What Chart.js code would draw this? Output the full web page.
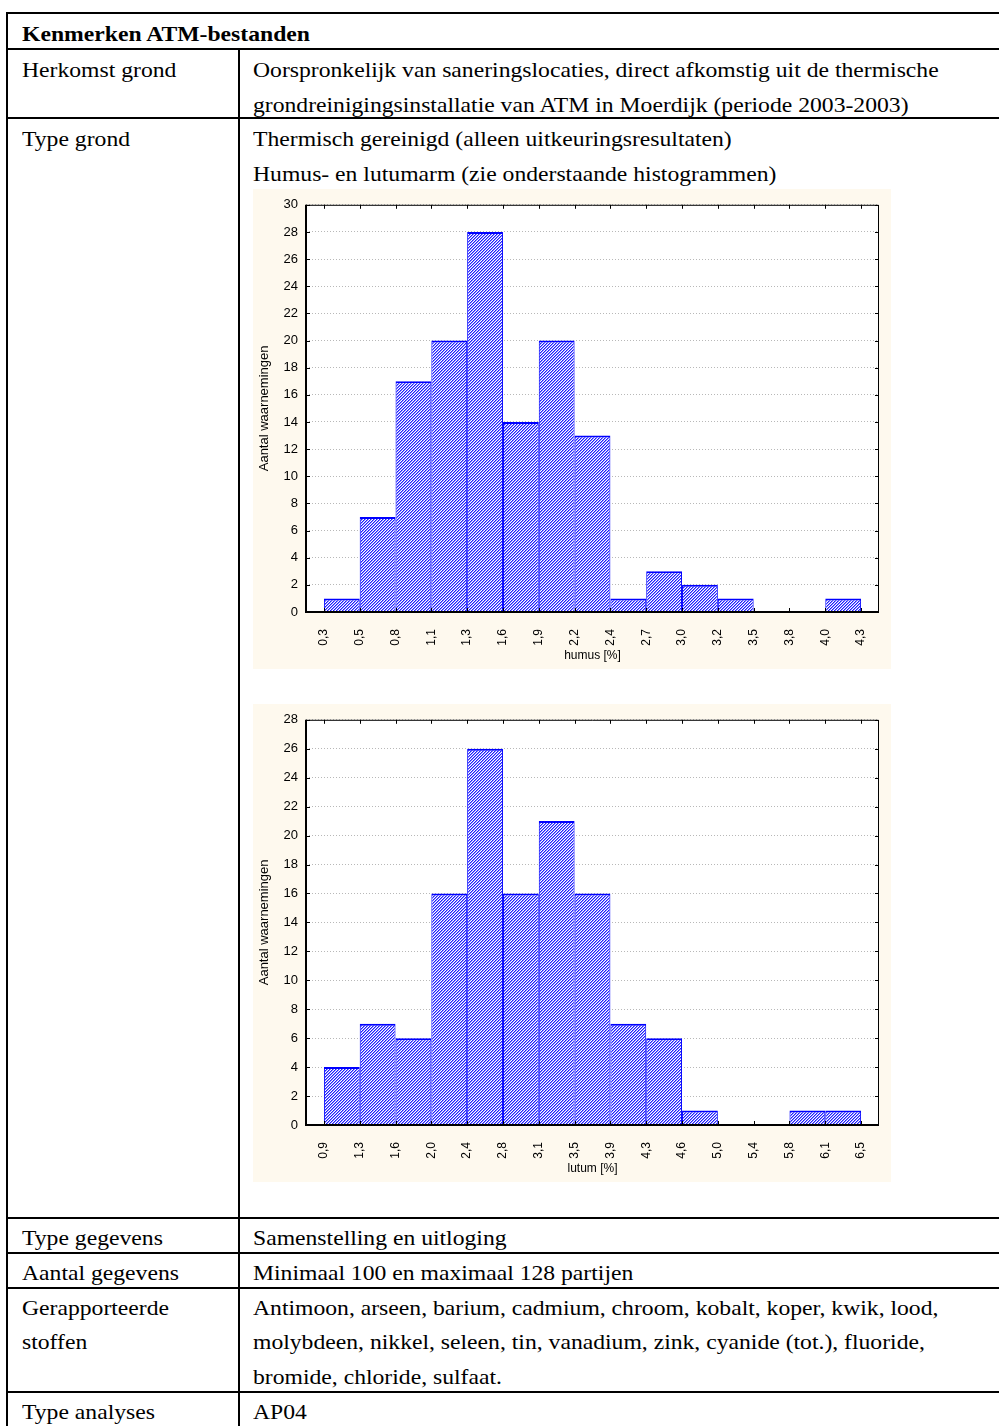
<!DOCTYPE html>
<html lang="nl">
<head>
<meta charset="utf-8">
<title>Kenmerken ATM-bestanden</title>
<script src="https://cdn.jsdelivr.net/npm/chart.js@4.4.1/dist/chart.umd.min.js"></script>
<style>
  html, body { margin: 0; padding: 0; background: #fff; }
  body {
    width: 999px; height: 1426px; position: relative; overflow: hidden;
    font-family: "Liberation Serif", "Times New Roman", serif; color: #000;
  }
  .hl { position: absolute; left: 6px; width: 1000px; height: 2px; background: #000; }
  .vl { position: absolute; width: 2px; background: #000; }
  .t {
    position: absolute; font-size: 21.5px; line-height: 34px; height: 34px;
    white-space: nowrap; transform: scaleX(1.1); transform-origin: 0 50%;
  }
  .l { left: 22px; }
  .r { left: 253px; }
  .b { font-weight: bold; }
  .chartbox { position: absolute; left: 253px; width: 638px; background: #fef9ee; }
  .chartbox canvas { display: block; }
</style>
</head>
<body>
  <!-- table rules -->
  <div class="hl" style="top:12px"></div>
  <div class="hl" style="top:48px"></div>
  <div class="hl" style="top:117px"></div>
  <div class="hl" style="top:1217px"></div>
  <div class="hl" style="top:1252px"></div>
  <div class="hl" style="top:1287px"></div>
  <div class="hl" style="top:1391px"></div>
  <div class="vl" style="left:6px;top:12px;height:1414px"></div>
  <div class="vl" style="left:238px;top:48px;height:1378px"></div>

  <!-- table text -->
  <div class="t l b" style="top:17px">Kenmerken ATM-bestanden</div>

  <div class="t l" style="top:53px">Herkomst grond</div>
  <div class="t r" style="top:53px">Oorspronkelijk van saneringslocaties, direct afkomstig uit de thermische</div>
  <div class="t r" style="top:88px">grondreinigingsinstallatie van ATM in Moerdijk (periode 2003-2003)</div>

  <div class="t l" style="top:122px">Type grond</div>
  <div class="t r" style="top:122px">Thermisch gereinigd (alleen uitkeuringsresultaten)</div>
  <div class="t r" style="top:157px">Humus- en lutumarm (zie onderstaande histogrammen)</div>

  <div class="chartbox" style="top:189px;height:480px"><canvas id="humusChart" width="638" height="480"></canvas></div>
  <div class="chartbox" style="top:704px;height:478px"><canvas id="lutumChart" width="638" height="478"></canvas></div>

  <div class="t l" style="top:1221px">Type gegevens</div>
  <div class="t r" style="top:1221px">Samenstelling en uitloging</div>

  <div class="t l" style="top:1256px">Aantal gegevens</div>
  <div class="t r" style="top:1256px">Minimaal 100 en maximaal 128 partijen</div>

  <div class="t l" style="top:1291px">Gerapporteerde</div>
  <div class="t l" style="top:1325px">stoffen</div>
  <div class="t r" style="top:1291px">Antimoon, arseen, barium, cadmium, chroom, kobalt, koper, kwik, lood,</div>
  <div class="t r" style="top:1325px">molybdeen, nikkel, seleen, tin, vanadium, zink, cyanide (tot.), fluoride,</div>
  <div class="t r" style="top:1360px">bromide, chloride, sulfaat.</div>

  <div class="t l" style="top:1395px">Type analyses</div>
  <div class="t r" style="top:1395px">AP04</div>

<script>
// Histogram bin edges (tick labels) and counts per bin
const humusEdges = ['0,3', '0,5', '0,8', '1,1', '1,3', '1,6', '1,9', '2,2', '2,4', '2,7', '3,0', '3,2', '3,5', '3,8', '4,0', '4,3'];
const humusCounts = [1, 7, 17, 20, 28, 14, 20, 13, 1, 3, 2, 1, 0, 0, 1];

const lutumEdges = ['0,9', '1,3', '1,6', '2,0', '2,4', '2,8', '3,1', '3,5', '3,9', '4,3', '4,6', '5,0', '5,4', '5,8', '6,1', '6,5'];
const lutumCounts = [4, 7, 6, 16, 26, 16, 21, 16, 7, 6, 1, 0, 0, 1, 1];

const humusYMax = 30;
const lutumYMax = 28;
const yStep = 2;

const yTitle = 'Aantal waarnemingen';
const humusTitle = 'humus [%]';
const lutumTitle = 'lutum [%]';

Chart.defaults.font.family = '"Liberation Sans", Arial, sans-serif';
Chart.defaults.color = '#000';

// fine diagonal blue hatching for the bars
function hatchPattern() {
  const c = document.createElement('canvas');
  c.width = 3; c.height = 3;
  const g = c.getContext('2d');
  const shades = ['#1e1eff', '#8c8cff', '#ffffff'];
  for (let y = 0; y < 3; y++) {
    for (let x = 0; x < 3; x++) {
      g.fillStyle = shades[(x + y) % 3];
      g.fillRect(x, y, 1, 1);
    }
  }
  return g.createPattern(c, 'repeat');
}

// white plot area, black frame and inward tick marks
const framePlugin = {
  id: 'frame',
  beforeDraw(chart) {
    const { ctx, chartArea: a } = chart;
    ctx.save();
    ctx.fillStyle = '#fff';
    ctx.fillRect(a.left, a.top, a.right - a.left, a.bottom - a.top);
    ctx.restore();
  },
  afterDatasetsDraw(chart) {
    const { ctx, chartArea: a, scales: { x, y } } = chart;
    ctx.save();
    ctx.strokeStyle = '#000';
    ctx.lineWidth = 1;
    ctx.beginPath();
    ctx.moveTo(a.left, a.top + 0.5);
    ctx.lineTo(a.right - 0.5, a.top + 0.5);
    ctx.lineTo(a.right - 0.5, a.bottom);
    x.ticks.forEach(t => {
      const px = Math.round(x.getPixelForValue(t.value)) + 0.5;
      ctx.moveTo(px, a.top); ctx.lineTo(px, a.top + 4);
      ctx.moveTo(px, a.bottom); ctx.lineTo(px, a.bottom - 4);
    });
    y.ticks.forEach(t => {
      const py = Math.round(y.getPixelForValue(t.value)) + 0.5;
      ctx.moveTo(a.left, py); ctx.lineTo(a.left + 4, py);
      ctx.moveTo(a.right, py); ctx.lineTo(a.right - 4, py);
    });
    ctx.stroke();
    ctx.lineWidth = 2;
    ctx.beginPath();
    ctx.moveTo(a.left, a.top);
    ctx.lineTo(a.left, a.bottom);
    ctx.lineTo(a.right, a.bottom);
    ctx.stroke();
    ctx.restore();
  }
};

function makeHistogram(id, edges, counts, yMax, xTitle, topPad) {
  const canvas = document.getElementById(id);
  return new Chart(canvas, {
    type: 'bar',
    data: {
      datasets: [{
        data: counts.map((c, i) => ({ x: i + 0.5, y: c })),
        backgroundColor: hatchPattern(),
        borderColor: '#0000ff',
        borderWidth: { top: 2, left: 1, right: 1, bottom: 0 },
        borderSkipped: false,
        barPercentage: 1,
        categoryPercentage: 1,
        inflateAmount: 0
      }]
    },
    options: {
      responsive: false,
      animation: false,
      devicePixelRatio: 1,
      layout: { padding: { top: topPad, right: 12, left: 0, bottom: 0 } },
      plugins: { legend: { display: false }, tooltip: { enabled: false } },
      scales: {
        x: {
          type: 'linear',
          min: -0.5,
          max: edges.length - 0.5,
          offset: false,
          afterBuildTicks: s => { s.ticks = edges.map((_, i) => ({ value: i })); },
          afterFit: s => { s.height = 57; },
          grid: { display: false },
          border: { display: false },
          ticks: {
            autoSkip: false,
            minRotation: 90,
            maxRotation: 90,
            padding: 9,
            font: { size: 12 },
            callback: v => edges[v]
          },
          title: {
            display: true,
            text: xTitle,
            font: { size: 12 },
            padding: { top: 0, bottom: 6 }
          }
        },
        y: {
          min: 0,
          max: yMax,
          afterFit: s => { s.width = 53; },
          ticks: { stepSize: yStep, padding: 8, font: { size: 13 } },
          grid: { color: '#b8b8b8', lineWidth: 1, drawTicks: false },
          border: { display: false, dash: [1, 2] },
          title: {
            display: true,
            text: yTitle,
            font: { size: 13 },
            padding: { top: 4, bottom: 0 }
          }
        }
      }
    },
    plugins: [framePlugin]
  });
}

makeHistogram('humusChart', humusEdges, humusCounts, humusYMax, humusTitle, 14);
makeHistogram('lutumChart', lutumEdges, lutumCounts, lutumYMax, lutumTitle, 11);
</script>
</body>
</html>
